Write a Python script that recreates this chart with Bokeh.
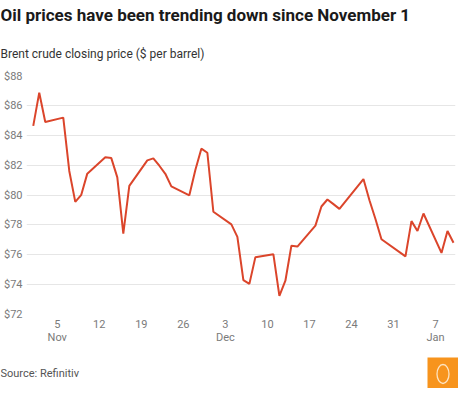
import pandas as pd
from bokeh.plotting import figure
from bokeh.layouts import column
from bokeh.core.properties import value
from bokeh.models import ColumnDataSource, FixedTicker, Range1d
from bokeh.embed import file_html
from bokeh.resources import INLINE

dates = ["2023-11-01", "2023-11-02", "2023-11-03", "2023-11-06", "2023-11-07", "2023-11-08",
         "2023-11-09", "2023-11-10", "2023-11-13", "2023-11-14", "2023-11-15", "2023-11-16",
         "2023-11-17", "2023-11-20", "2023-11-21", "2023-11-22", "2023-11-23", "2023-11-24",
         "2023-11-27", "2023-11-28", "2023-11-29", "2023-11-30", "2023-12-01", "2023-12-04",
         "2023-12-05", "2023-12-06", "2023-12-07", "2023-12-08", "2023-12-11", "2023-12-12",
         "2023-12-13", "2023-12-14", "2023-12-15", "2023-12-18", "2023-12-19", "2023-12-20",
         "2023-12-21", "2023-12-22", "2023-12-26", "2023-12-27", "2023-12-28", "2023-12-29",
         "2024-01-02", "2024-01-03", "2024-01-04", "2024-01-05", "2024-01-08", "2024-01-09",
         "2024-01-10"]
prices = [84.63, 86.85, 84.89, 85.18, 81.61, 79.54,
          80.01, 81.43, 82.52, 82.47, 81.18, 77.42,
          80.61, 82.32, 82.45, 81.96, 81.42, 80.58,
          79.98, 81.68, 83.10, 82.83, 78.88, 78.03,
          77.20, 74.30, 74.05, 75.84, 76.03, 73.24,
          74.26, 76.61, 76.55, 77.95, 79.23, 79.70,
          79.39, 79.07, 81.07, 79.65, 78.39, 77.04,
          75.89, 78.25, 77.59, 78.76, 76.12, 77.59,
          76.80]

y_ticks = [72, 74, 76, 78, 80, 82, 84, 86, 88]
y_tick_labels = ["$72", "$74", "$76", "$78", "$80", "$82", "$84", "$86", "$88"]
x_tick_dates = ["2023-11-05", "2023-11-12", "2023-11-19", "2023-11-26", "2023-12-03",
                "2023-12-10", "2023-12-17", "2023-12-24", "2023-12-31", "2024-01-07"]
x_tick_labels = ["5\nNov", "12", "19", "26", "3\nDec", "10", "17", "24", "31", "7\nJan"]

title_text = "Oil prices have been trending down since November 1"
subtitle_text = "Brent crude closing price ($ per barrel)"
source_text = "Source: Refinitiv"

FONT = "Roboto"
GREY = "#7a7a7a"
W = 458


def blank(height):
    f = figure(width=W, height=height, x_range=Range1d(0, W), y_range=Range1d(height, 0),
               output_backend="svg", toolbar_location=None,
               x_axis_location=None, y_axis_location=None,
               min_border=0, frame_align=False)
    f.grid.visible = False
    f.outline_line_color = None
    f.background_fill_color = "white"
    f.border_fill_color = "white"
    return f


# ---- header (title + subtitle)
header = blank(69)
header.text(x=[0], y=[14], text=[title_text], text_font=value(FONT),
            text_font_size="17px", text_font_style="bold", text_color="#1a1a1a",
            text_baseline="middle", text_align="left")
header.text(x=[0], y=[53], text=[subtitle_text], text_font=value(FONT),
            text_font_size="12px", text_color="#333333",
            text_baseline="middle", text_align="left")

# ---- main chart
df = pd.DataFrame({"date": pd.to_datetime(dates), "price": prices})
src = ColumnDataSource(df)

x_start = pd.Timestamp("2023-11-01") - pd.Timedelta(hours=27)
x_end = pd.Timestamp("2024-01-10") + pd.Timedelta(hours=8)

fig = figure(width=W, height=281, x_axis_type="datetime",
             x_range=Range1d(x_start, x_end), y_range=Range1d(72, 88),
             output_backend="svg", toolbar_location=None, frame_align=False,
             min_border_left=0, min_border_right=3, min_border_top=6, min_border_bottom=36)

fig.line("date", "price", source=src, line_color="#DB452B", line_width=2)

fig.outline_line_color = None
fig.background_fill_color = "white"
fig.border_fill_color = "white"

fig.xgrid.grid_line_color = None
fig.ygrid.grid_line_color = "#e6e6e6"
fig.ygrid.grid_line_width = 1

tick_ms = [pd.Timestamp(d).value / 1e6 for d in x_tick_dates]
fig.xaxis.ticker = FixedTicker(ticks=tick_ms)
fig.xaxis.major_label_overrides = {t: l for t, l in zip(tick_ms, x_tick_labels)}
fig.xaxis.axis_line_color = None
fig.xaxis.major_tick_line_color = None
fig.xaxis.minor_tick_line_color = None
fig.xaxis.major_tick_out = 0
fig.xaxis.minor_tick_out = 0
fig.xaxis.major_label_text_font = FONT
fig.xaxis.major_label_text_font_size = "11px"
fig.xaxis.major_label_text_color = GREY
fig.xaxis.major_label_text_line_height = 1.05
fig.xaxis.major_label_standoff = 3

fig.yaxis.ticker = FixedTicker(ticks=y_ticks)
fig.yaxis.major_label_overrides = {t: l for t, l in zip(y_ticks, y_tick_labels)}
fig.yaxis.axis_line_color = None
fig.yaxis.major_tick_line_color = None
fig.yaxis.minor_tick_line_color = None
fig.yaxis.major_tick_out = 0
fig.yaxis.minor_tick_out = 0
fig.yaxis.major_label_text_font = FONT
fig.yaxis.major_label_text_font_size = "11px"
fig.yaxis.major_label_text_color = GREY
fig.yaxis.major_label_standoff = 4

# ---- footer (source + logo)
footer = blank(38)
footer.text(x=[0], y=[23], text=[source_text], text_font=value(FONT),
            text_font_size="11px", text_color="#555555",
            text_baseline="middle", text_align="left")
footer.rect(x=[442.5], y=[22.5], width=31, height=31, fill_color="#F7941D",
            line_color=None)
footer.ellipse(x=[442.5], y=[23.5], width=12, height=19, fill_color=None,
               line_color="#fde3c0", line_width=1.3)

p = column(header, fig, footer, spacing=0)

open("out.html", "w").write(file_html(p, INLINE))
